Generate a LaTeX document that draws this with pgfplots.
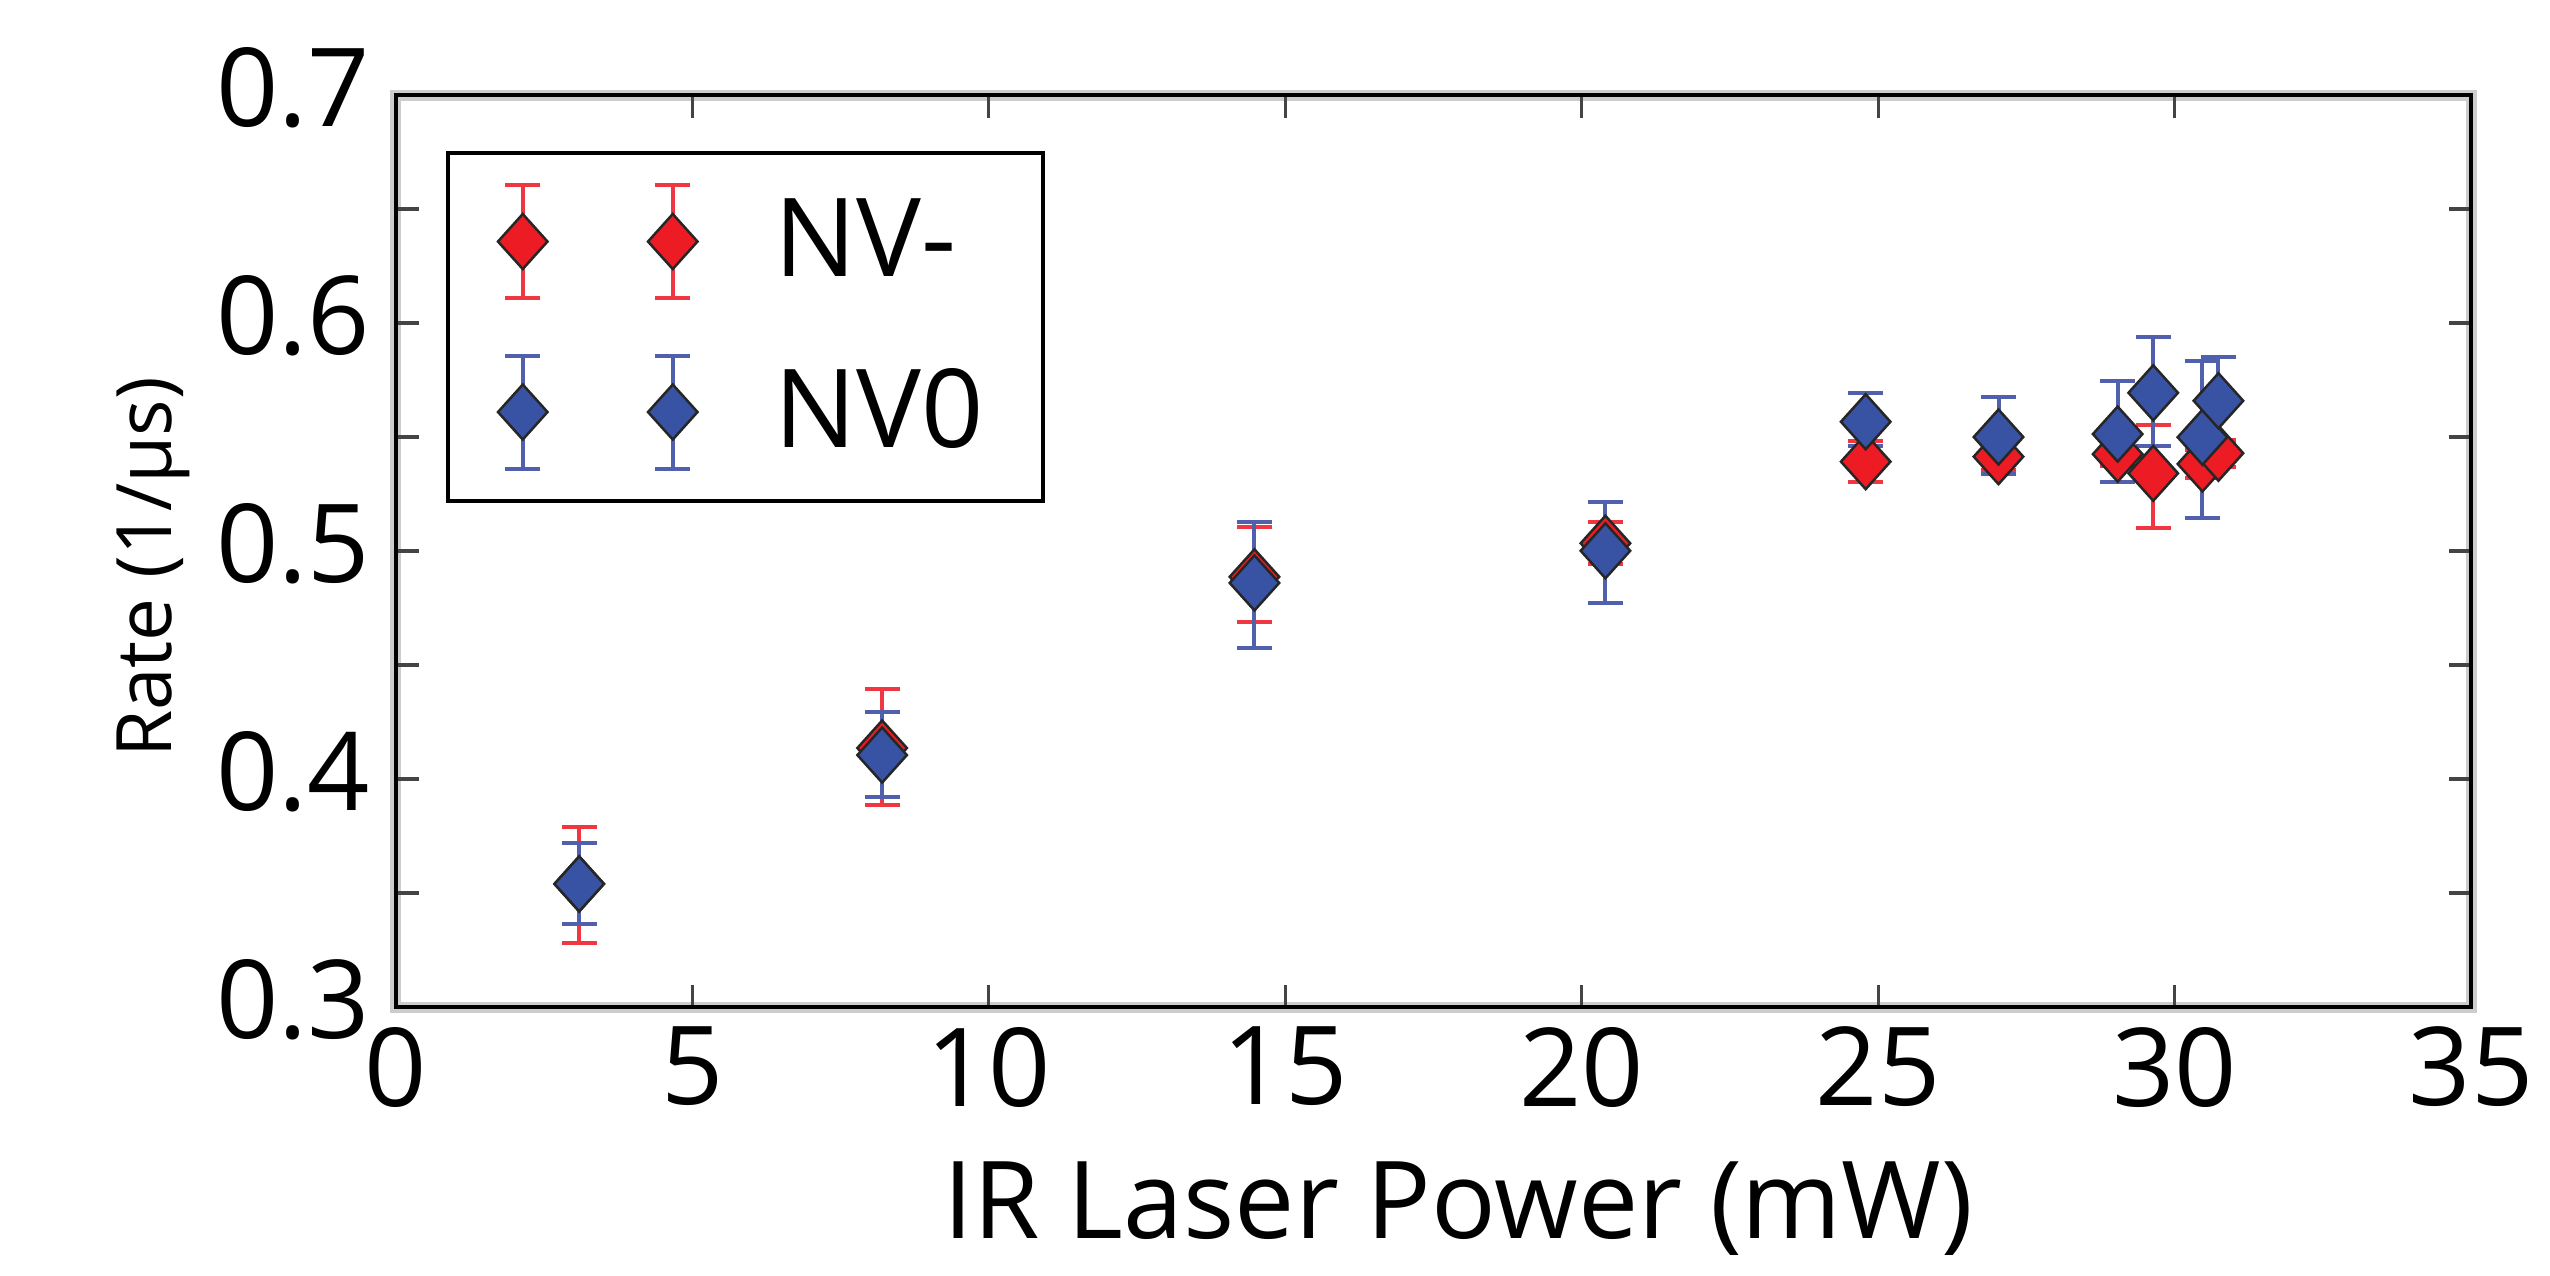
\documentclass[border=0pt]{standalone}
\usepackage{fontspec}
\setmainfont{Open Sans}
\usepackage{pgfplots}
\pgfplotsset{compat=1.18}
\usepackage{pgfplotstable}
\definecolor{nvred}{RGB}{237,28,36}
\definecolor{nvredbar}{RGB}{239,55,65}
\definecolor{nvblue}{RGB}{57,83,164}
\definecolor{nvbluebar}{RGB}{80,96,172}
\definecolor{tickgray}{RGB}{68,68,68}

\pgfplotstableread{
x y ep em
3.09 0.354 0.025 0.026
8.20 0.4136 0.026 0.025
14.48 0.4887 0.022 0.020
20.40 0.5034 0.0095 0.009
24.79 0.5392 0.009 0.009
27.03 0.5414 0.006 0.006
29.04 0.5425 0.005 0.005
29.64 0.5341 0.021 0.024
30.47 0.5382 0.006 0.006
30.74 0.5429 0.006 0.006
}\nvminus

\pgfplotstableread{
x y ep em
3.09 0.354 0.018 0.0175
8.20 0.4105 0.019 0.0185
14.48 0.486 0.0266 0.0284
20.40 0.5001 0.0215 0.0228
24.79 0.5567 0.0127 0.0105
27.03 0.550 0.0177 0.0161
29.04 0.5513 0.0234 0.0209
29.64 0.5694 0.0246 0.0232
30.47 0.5499 0.0336 0.0353
30.74 0.5659 0.0193 0.019
}\nvzero

\begin{document}
\begin{tikzpicture}
\useasboundingbox (-79.2pt,-53.6pt) rectangle (430.8pt,201.4pt);
\begin{axis}[
  at={(0,0)}, anchor=south west,
  scale only axis, width=415pt, height=182.4pt,
  xmin=0, xmax=35, ymin=0.3, ymax=0.7,
  xtick={0,5,...,35},
  ytick={0.3,0.4,0.5,0.6,0.7},
  yticklabels={0.3,0.4,0.5,0.6,0.7},
  minor ytick={0.35,0.45,0.55,0.65},
  tick align=inside,
  major tick length=4.5pt, minor tick length=4.5pt,
  tick style={tickgray, line width=0.65pt},
  axis line style={black, line width=0.8pt},
  axis background/.style={draw=black!20, line width=2.2pt},
  /pgf/number format/assume math mode=true,
  ticklabel style={font=\fontsize{21.8}{26}\selectfont, inner sep=0pt},
  xticklabel style={yshift=-3.8pt},
  yticklabel style={xshift=-5pt, yshift=1.4pt},
  xlabel={IR Laser Power (mW)},
  xlabel style={at={(axis description cs:0.5,0)}, anchor=base, yshift=-46.2pt, xshift=5pt, inner sep=0pt, font=\fontsize{21.5}{26}\selectfont},
  ylabel={Rate (1/µs)},
  ylabel style={at={(axis description cs:0,0.5)}, anchor=base, xshift=-3.3pt, yshift=44.8pt, inner sep=0pt, font=\fontsize{15.3}{18}\selectfont},
  legend style={at={(axis description cs:0,1)}, anchor=north west, xshift=10pt, yshift=-11.2pt,
    draw=black, line width=0.8pt,
    inner xsep=10pt, inner ysep=6pt, row sep=10.7pt,
    font=\fontsize{21.8}{26}\selectfont,
    nodes={inner sep=2pt, text=black},
    /tikz/every odd column/.append style={column sep=13.3pt}},
  legend cell align=left,
]
\addplot[only marks, mark=diamond*, mark size=5.5pt,
  mark options={fill=nvred, draw=black!85, line width=0.5pt, xscale=1.2},
  legend image code/.code={
    \draw[nvredbar, line width=0.8pt] (0pt,-11.3pt) -- (0pt,11.3pt) (-3.5pt,-11.3pt) -- (3.5pt,-11.3pt) (-3.5pt,11.3pt) -- (3.5pt,11.3pt)
      (30pt,-11.3pt) -- (30pt,11.3pt) (26.5pt,-11.3pt) -- (33.5pt,-11.3pt) (26.5pt,11.3pt) -- (33.5pt,11.3pt);
    \path plot[mark=diamond*, mark size=5.5pt, mark options={fill=nvred, draw=black!85, line width=0.5pt, xscale=1.2}] coordinates {(0pt,0pt) (30pt,0pt)};
  },
  error bars/.cd, y dir=both, y explicit,
  error bar style={nvredbar, line width=0.8pt},
  error mark options={rotate=90, nvredbar, mark size=3.5pt, line width=0.8pt}]
  table[x=x, y=y, y error plus=ep, y error minus=em] {\nvminus};
\addlegendentry{NV-}
\addplot[only marks, mark=diamond*, mark size=5.5pt,
  mark options={fill=nvblue, draw=black!85, line width=0.5pt, xscale=1.2},
  legend image code/.code={
    \draw[nvbluebar, line width=0.8pt] (0pt,-11.3pt) -- (0pt,11.3pt) (-3.5pt,-11.3pt) -- (3.5pt,-11.3pt) (-3.5pt,11.3pt) -- (3.5pt,11.3pt)
      (30pt,-11.3pt) -- (30pt,11.3pt) (26.5pt,-11.3pt) -- (33.5pt,-11.3pt) (26.5pt,11.3pt) -- (33.5pt,11.3pt);
    \path plot[mark=diamond*, mark size=5.5pt, mark options={fill=nvblue, draw=black!85, line width=0.5pt, xscale=1.2}] coordinates {(0pt,0pt) (30pt,0pt)};
  },
  error bars/.cd, y dir=both, y explicit,
  error bar style={nvbluebar, line width=0.8pt},
  error mark options={rotate=90, nvbluebar, mark size=3.5pt, line width=0.8pt}]
  table[x=x, y=y, y error plus=ep, y error minus=em] {\nvzero};
\addlegendentry{NV0}
\end{axis}
\end{tikzpicture}
\end{document}
